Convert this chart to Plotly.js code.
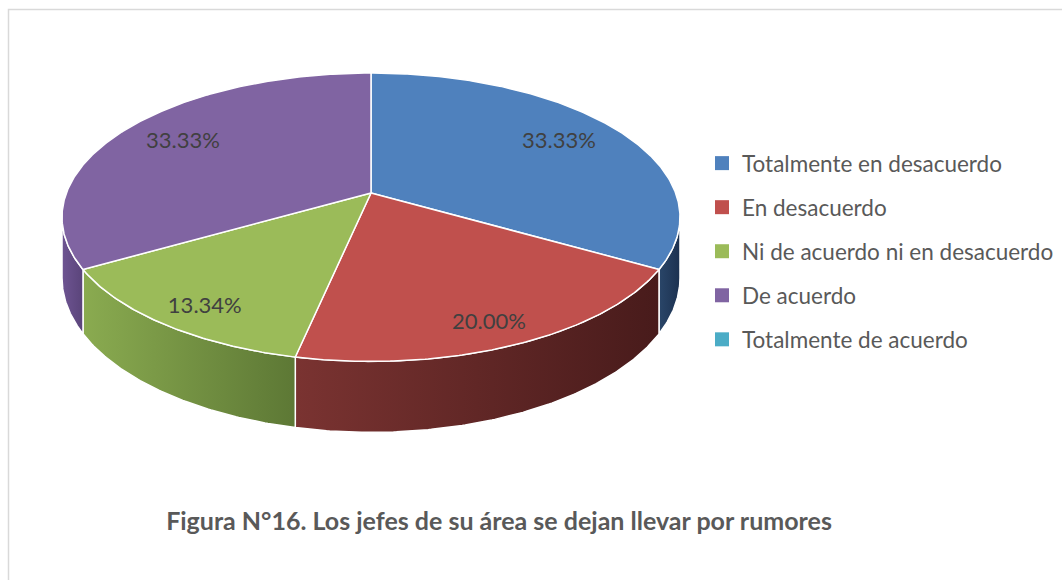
<!DOCTYPE html>
<html><head><meta charset="utf-8">
<script src="https://cdn.plot.ly/plotly-3.0.1.min.js"></script>
<style>html,body{margin:0;padding:0;background:#fff}#chart{width:1062px;height:580px}</style>
</head><body><div id="chart"></div>
<script>
// ---- data ----
const categories = ['Totalmente en desacuerdo', 'En desacuerdo', 'Ni de acuerdo ni en desacuerdo', 'De acuerdo', 'Totalmente de acuerdo'];
const percentages = [33.33, 20.00, 13.34, 33.33, 0];
const labelTexts = ['33.33%', '20.00%', '13.34%', '33.33%', ''];
const topColors = ['#4F81BD', '#C0504D', '#9BBB59', '#8064A2', '#4BACC6'];
const wallLight = ['#2a4669', '#7a3331', '#8aab50', '#6e5492', '#3c8a9f'];
const wallDark = ['#1c3150', '#481b1b', '#5d7835', '#5a447a', '#2d6b7c'];
const chartTitle = 'Figura N°16. Los jefes de su área se dejan llevar por rumores';

// ---- 3D pie projection (layout geometry) ----
const W = 1062, H = 580;
const CX = 371, CY = 193, RX = 304.6, RY = 140.1, K = 0.168, DEPTH = 59;
const LABEL_R = 0.847, LABEL_D = 5, LABEL_RX = 0.782, LABEL_KX = 0.249;
function proj(a, r, d) {
  const s = Math.sin(a), c = Math.cos(a);
  const den = 1 - K * r * s;
  return [CX + RX * r * c / den, CY + (RY * r * s + d) / den];
}
function labelPos(a) {
  const s = Math.sin(a), c = Math.cos(a);
  const x = CX + RX * LABEL_RX * c / (1 - LABEL_KX * LABEL_RX * s);
  const y = CY + (RY * LABEL_R * s + LABEL_D) / (1 - K * LABEL_R * s);
  return [x, y];
}
const total = percentages.reduce((p, v) => p + v, 0);
const A_MIN = Math.asin(K), A_MAX = Math.PI - Math.asin(K);
const STEP = Math.PI / 360;

const wallTraces = [], topTraces = [];
const lx = [], ly = [], lt = [];
let cum = 0;
percentages.forEach((v, i) => {
  const a0 = -Math.PI / 2 + 2 * Math.PI * cum / total;
  cum += v;
  const a1 = -Math.PI / 2 + 2 * Math.PI * cum / total;
  if (v <= 0) return;
  // top face
  const tx = [CX], ty = [CY];
  for (let a = a0; a < a1; a += STEP) { const p = proj(a, 1, 0); tx.push(p[0]); ty.push(p[1]); }
  const pe = proj(a1, 1, 0); tx.push(pe[0]); ty.push(pe[1]);
  tx.push(CX); ty.push(CY);
  topTraces.push({
    type: 'scatter', mode: 'lines', x: tx, y: ty, fill: 'toself', fillcolor: topColors[i],
    line: { color: '#ffffff', width: 1.5 }, hoverinfo: 'skip', showlegend: false
  });
  // visible outer wall
  const w0 = Math.max(a0, A_MIN), w1 = Math.min(a1, A_MAX);
  if (w1 > w0) {
    const angs = [];
    for (let a = w0; a < w1; a += STEP) angs.push(a);
    angs.push(w1);
    const wx = [], wy = [];
    angs.forEach(a => { const p = proj(a, 1, 0); wx.push(p[0]); wy.push(p[1]); });
    angs.slice().reverse().forEach(a => { const p = proj(a, 1, DEPTH); wx.push(p[0]); wy.push(p[1]); });
    wx.push(wx[0]); wy.push(wy[0]);
    wallTraces.push({
      type: 'scatter', mode: 'lines', x: wx, y: wy, fill: 'toself',
      fillgradient: { type: 'horizontal', colorscale: [[0, wallLight[i]], [1, wallDark[i]]] },
      fillcolor: wallDark[i],
      line: { color: '#ffffff', width: 1.5 }, hoverinfo: 'skip', showlegend: false
    });
  }
  // data label
  const lp = labelPos((a0 + a1) / 2);
  lx.push(lp[0]); ly.push(lp[1]); lt.push(labelTexts[i]);
});

const labelTrace = {
  type: 'scatter', mode: 'text', x: lx, y: ly, text: lt,
  textposition: 'middle center',
  textfont: { family: 'Lato, "Open Sans", sans-serif', size: 22, color: '#404040' },
  hoverinfo: 'skip', showlegend: false
};

const legendTraces = categories.map((c, i) => ({
  type: 'scatter', mode: 'markers', x: [null], y: [null], name: c,
  legendgroup: 'g' + i,
  marker: { symbol: 'square', size: 14, color: topColors[i] }
}));

const layout = {
  width: W, height: H,
  margin: { l: 0, r: 0, t: 0, b: 0 },
  paper_bgcolor: '#ffffff', plot_bgcolor: '#ffffff',
  xaxis: { range: [0, W], visible: false, fixedrange: true },
  yaxis: { range: [H, 0], visible: false, fixedrange: true },
  showlegend: true,
  legend: {
    x: 702 / W, xanchor: 'left', y: 1 - 142 / H, yanchor: 'top',
    traceorder: 'grouped', tracegroupgap: 11.8,
    bgcolor: 'rgba(0,0,0,0)',
    font: { family: 'Lato, "Open Sans", sans-serif', size: 22.5, color: '#595959' }
  },
  title: {
    text: '<b>' + chartTitle + '</b>',
    x: 499 / W, xanchor: 'center', y: 1 - 521 / H, yanchor: 'middle',
    font: { family: 'Lato, "Open Sans", sans-serif', size: 25, color: '#595959' }
  },
  shapes: [{
    type: 'rect', xref: 'x', yref: 'y', x0: 8.5, y0: 9.5, x1: W + 10, y1: H + 10,
    line: { color: '#d9d9d9', width: 1.5 }, fillcolor: 'rgba(0,0,0,0)', layer: 'below'
  }]
};

Plotly.newPlot('chart', [...wallTraces, ...topTraces, labelTrace, ...legendTraces], layout,
  { displayModeBar: false, staticPlot: true });
</script></body></html>
